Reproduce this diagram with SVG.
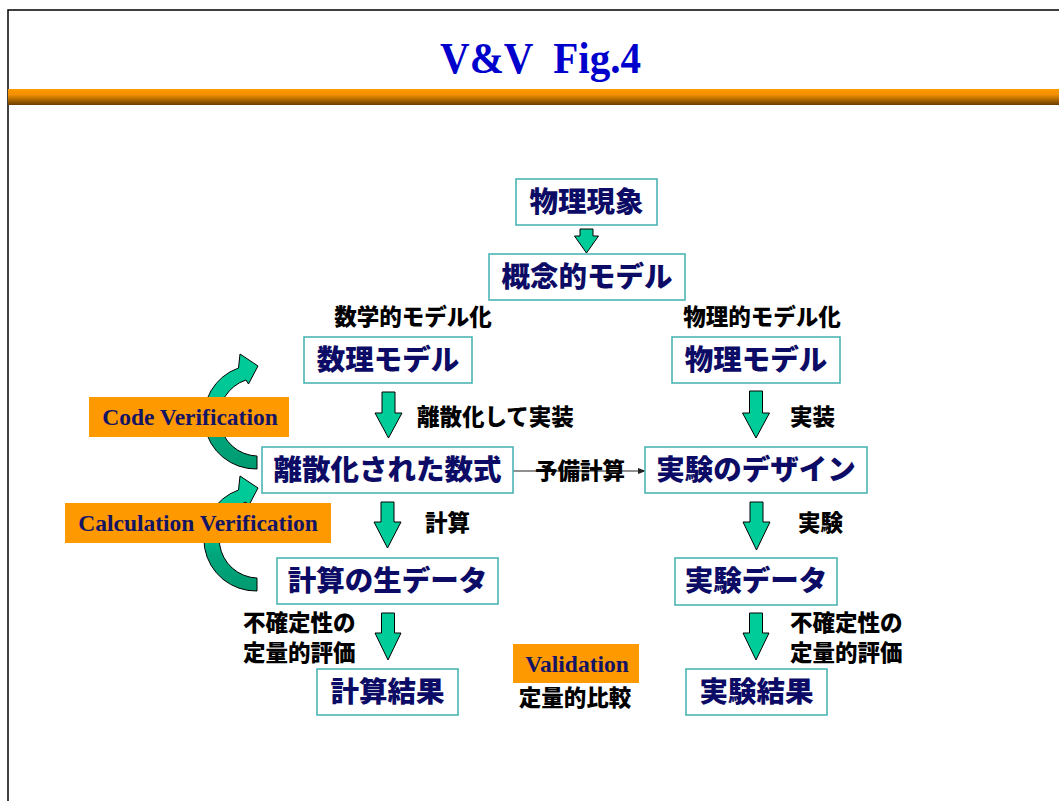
<svg xmlns="http://www.w3.org/2000/svg" xmlns:xlink="http://www.w3.org/1999/xlink" width="1059" height="801" viewBox="0 0 1059 801">
<defs>
<linearGradient id="bar" x1="0" y1="0" x2="0" y2="1">
<stop offset="0" stop-color="#FF9900"/>
<stop offset="0.35" stop-color="#F29000"/>
<stop offset="1" stop-color="#6A3E00"/>
</linearGradient>
<linearGradient id="curl" x1="0" y1="0" x2="0" y2="1">
<stop offset="0" stop-color="#00CC99"/>
<stop offset="0.5" stop-color="#00C494"/>
<stop offset="0.68" stop-color="#00A67C"/>
<stop offset="1" stop-color="#009A70"/>
</linearGradient>
<path id="curlArrow" d="M257,469 A52,52 0 0 1 238.5,368 L240,354 L258,366 L248.5,384 L246,380 A39,39 0 0 0 257,456 Z"/>
<marker id="ah" markerWidth="8" markerHeight="8" refX="7" refY="4" orient="auto" markerUnits="userSpaceOnUse">
<path d="M0,1 L8,4 L0,7 Z" fill="#222"/>
</marker>
</defs>
<style>
.box{fill:#FFFFFF;stroke:#4DB5B5;stroke-width:1.6}
.bt{font-family:"Noto Sans CJK JP","Noto Sans CJK SC",sans-serif;font-weight:900;font-size:28.5px;fill:#0C0C66;text-anchor:middle}
.lb{font-family:"Noto Sans CJK JP","Noto Sans CJK SC",sans-serif;font-weight:900;font-size:22.5px;fill:#000000}
.dn{fill:#00CC99;stroke:#000000;stroke-width:1}
.curl{fill:url(#curl);stroke:#000000;stroke-width:1}
.ob{fill:#FF9900}
.ot{font-family:"Liberation Serif",serif;font-weight:bold;font-size:23.5px;fill:#141464;text-anchor:middle}
.ttl{font-family:"Liberation Serif",serif;font-weight:bold;font-size:45px;fill:#0000CC}
</style>
<rect x="0" y="0" width="1059" height="801" fill="#FFFFFF"/>
<g id="frame">
<path d="M8,801 V10 H1059" fill="none" stroke="#000000" stroke-width="1.5"/>
<rect x="8" y="89" width="1051" height="16" fill="url(#bar)"/>
<text class="ttl" x="440" y="73" textLength="201" lengthAdjust="spacingAndGlyphs" xml:space="preserve">V&amp;V  Fig.4</text>
</g>
<g id="connectors">
<use xlink:href="#curlArrow" class="curl"/>
<use xlink:href="#curlArrow" class="curl" transform="translate(0,122)"/>
<path class="dn" d="M580,229 H593 V236 H598.5 L586.5,253 L574.5,236 H580 Z"/>
<path class="dn" d="M382,392 H395 V413 H402 L388.5,438 L375,413 H382 Z"/>
<path class="dn" d="M749.5,391 H762.5 V413 H769.5 L756,438 L742.5,413 H749.5 Z"/>
<path class="dn" d="M381,502 H394 V522 H401 L387.5,548 L374,522 H381 Z"/>
<path class="dn" d="M750,502 H763 V522 H770 L756.5,550 L743,522 H750 Z"/>
<path class="dn" d="M381.5,613 H394.5 V633 H401 L388,660 L375,633 H381.5 Z"/>
<path class="dn" d="M749.5,613 H762.5 V633 H769 L756,660 L743,633 H749.5 Z"/>
<line x1="513" y1="471" x2="645" y2="471" stroke="#222" stroke-width="1.2" marker-end="url(#ah)"/>
</g>
<g id="n-buturi-gensho"><rect class="box" x="516" y="179" width="141" height="46"/><text class="bt" x="586.5" y="212">物理現象</text></g>
<g id="n-gainen"><rect class="box" x="489" y="254" width="196" height="46"/><text class="bt" x="587" y="287">概念的モデル</text></g>
<g id="n-suri"><rect class="box" x="304" y="337" width="168" height="46"/><text class="bt" x="388" y="370">数理モデル</text></g>
<g id="n-buturi-model"><rect class="box" x="672" y="337" width="168" height="46"/><text class="bt" x="756" y="370">物理モデル</text></g>
<g id="n-risan"><rect class="box" x="262" y="447" width="251" height="46"/><text class="bt" x="387.5" y="480">離散化された数式</text></g>
<g id="n-design"><rect class="box" x="645" y="447" width="222" height="46"/><text class="bt" x="756" y="480">実験のデザイン</text></g>
<g id="n-nama"><rect class="box" x="277" y="558" width="221" height="46"/><text class="bt" x="387.5" y="591">計算の生データ</text></g>
<g id="n-jikken-data"><rect class="box" x="675" y="558" width="162" height="47"/><text class="bt" x="756" y="591">実験データ</text></g>
<g id="n-keisan-kekka"><rect class="box" x="317" y="669" width="141" height="46"/><text class="bt" x="387.5" y="702">計算結果</text></g>
<g id="n-jikken-kekka"><rect class="box" x="686" y="669" width="141" height="46"/><text class="bt" x="756.5" y="702">実験結果</text></g>
<g id="labels">
<text class="lb" x="413" y="325" text-anchor="middle">数学的モデル化</text>
<text class="lb" x="762" y="325" text-anchor="middle">物理的モデル化</text>
<text class="lb" x="417" y="425">離散化して実装</text>
<text class="lb" x="790" y="425">実装</text>
<text class="lb" x="580" y="479" text-anchor="middle">予備計算</text>
<text class="lb" x="425" y="531">計算</text>
<text class="lb" x="798" y="531">実験</text>
<text class="lb" x="243" y="631">不確定性の</text>
<text class="lb" x="243" y="661">定量的評価</text>
<text class="lb" x="790" y="631">不確定性の</text>
<text class="lb" x="790" y="661">定量的評価</text>
<text class="lb" x="575" y="706" text-anchor="middle">定量的比較</text>
</g>
<g id="n-code-verification"><rect class="ob" x="89" y="397" width="200" height="40"/><text class="ot" x="190" y="425">Code Verification</text></g>
<g id="n-calc-verification"><rect class="ob" x="65" y="503" width="266" height="40"/><text class="ot" x="198" y="531">Calculation Verification</text></g>
<g id="n-validation"><rect class="ob" x="513" y="644" width="126" height="39"/><text class="ot" x="577" y="672">Validation</text></g>
</svg>
